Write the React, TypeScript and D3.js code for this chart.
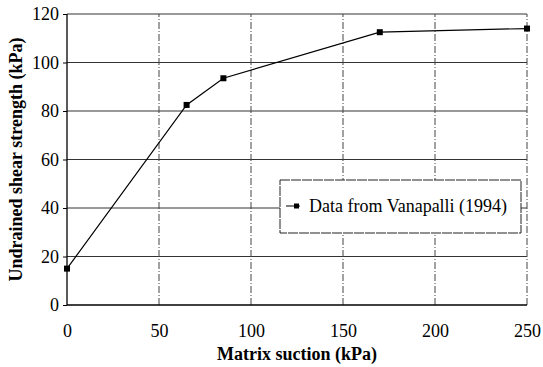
import { useEffect, useRef } from "react";
import * as d3 from "d3";

// Data
const suction = [0, 65, 85, 170, 250];
const strength = [15, 82.5, 93.5, 112.5, 114];
const xTicks = [0, 50, 100, 150, 200, 250];
const yTicks = [0, 20, 40, 60, 80, 100, 120];
const legendLabel = "Data from Vanapalli (1994)";

const App = () => {
  const svgRef = useRef<SVGSVGElement>(null);

  useEffect(() => {
    const width = 543;
    const height = 367;
    const m = { left: 67, right: 16, top: 14, bottom: 62 };
    const font = "'Liberation Serif', 'DejaVu Serif', serif";

    const svg = d3
      .select(svgRef.current)
      .attr("width", width)
      .attr("height", height);
    svg.selectAll("*").remove();

    const x = d3.scaleLinear().domain([0, 250]).range([m.left, width - m.right]);
    const y = d3.scaleLinear().domain([0, 120]).range([height - m.bottom, m.top]);

    svg.append("rect").attr("width", width).attr("height", height).attr("fill", "#fff");

    // horizontal gridlines (solid)
    svg
      .append("g")
      .selectAll("line")
      .data(yTicks.slice(1))
      .join("line")
      .attr("x1", x(0))
      .attr("x2", x(250))
      .attr("y1", (d) => y(d))
      .attr("y2", (d) => y(d))
      .attr("stroke", "#333")
      .attr("stroke-width", 1);

    // vertical gridlines (dash-dot)
    svg
      .append("g")
      .selectAll("line")
      .data(xTicks.slice(1))
      .join("line")
      .attr("x1", (d) => x(d))
      .attr("x2", (d) => x(d))
      .attr("y1", y(0))
      .attr("y2", y(120))
      .attr("stroke", "#444")
      .attr("stroke-width", 1)
      .attr("stroke-dasharray", "7,2,1,2");

    // axes lines
    svg
      .append("line")
      .attr("x1", x(0))
      .attr("x2", x(0))
      .attr("y1", y(0))
      .attr("y2", y(120))
      .attr("stroke", "#000")
      .attr("stroke-width", 1.3);
    svg
      .append("line")
      .attr("x1", x(0))
      .attr("x2", x(250))
      .attr("y1", y(0))
      .attr("y2", y(0))
      .attr("stroke", "#000")
      .attr("stroke-width", 1.3);

    // y axis ticks + labels
    const yAxis = svg
      .append("g")
      .attr("transform", `translate(${x(0)},0)`)
      .call(d3.axisLeft(y).tickValues(yTicks).tickSize(4).tickPadding(4));
    yAxis.select(".domain").remove();
    yAxis
      .selectAll("text")
      .style("font-family", font)
      .style("font-size", "18px")
      .attr("fill", "#000");

    // x axis labels
    const xAxis = svg
      .append("g")
      .attr("transform", `translate(0,${y(0)})`)
      .call(d3.axisBottom(x).tickValues(xTicks).tickSize(0).tickPadding(19));
    xAxis.select(".domain").remove();
    xAxis
      .selectAll("text")
      .style("font-family", font)
      .style("font-size", "18px")
      .attr("fill", "#000");

    // axis titles
    svg
      .append("text")
      .attr("x", (x(0) + x(250)) / 2)
      .attr("y", 360)
      .attr("text-anchor", "middle")
      .style("font-family", font)
      .style("font-size", "18px")
      .style("font-weight", "bold")
      .text("Matrix suction (kPa)");
    svg
      .append("text")
      .attr("transform", `translate(22,${(y(0) + y(120)) / 2}) rotate(-90)`)
      .attr("text-anchor", "middle")
      .style("font-family", font)
      .style("font-size", "18px")
      .style("font-weight", "bold")
      .text("Undrained shear strength (kPa)");

    // series
    const pts = suction.map((s, i) => [s, strength[i]] as [number, number]);
    const line = d3
      .line<[number, number]>()
      .x((d) => x(d[0]))
      .y((d) => y(d[1]));
    svg
      .append("path")
      .attr("d", line(pts))
      .attr("fill", "none")
      .attr("stroke", "#000")
      .attr("stroke-width", 1.2);
    svg
      .append("g")
      .selectAll("rect")
      .data(pts)
      .join("rect")
      .attr("x", (d) => x(d[0]) - 3)
      .attr("y", (d) => y(d[1]) - 3)
      .attr("width", 6)
      .attr("height", 6)
      .attr("fill", "#000");

    // legend
    const lg = svg.append("g");
    lg.append("rect")
      .attr("x", 280)
      .attr("y", 180)
      .attr("width", 241)
      .attr("height", 53)
      .attr("fill", "#fff")
      .attr("stroke", "#222")
      .attr("stroke-width", 1)
      .attr("stroke-dasharray", "10,1");
    lg.append("line")
      .attr("x1", 286)
      .attr("x2", 300)
      .attr("y1", 206)
      .attr("y2", 206)
      .attr("stroke", "#000")
      .attr("stroke-width", 1);
    lg.append("rect")
      .attr("x", 294)
      .attr("y", 203.5)
      .attr("width", 5)
      .attr("height", 5)
      .attr("fill", "#000");
    lg.append("text")
      .attr("x", 309)
      .attr("y", 212)
      .style("font-family", font)
      .style("font-size", "18px")
      .text(legendLabel);
  }, []);

  return <svg ref={svgRef} style={{ position: "absolute", left: 0, top: 0 }}></svg>;
};

export default App;
